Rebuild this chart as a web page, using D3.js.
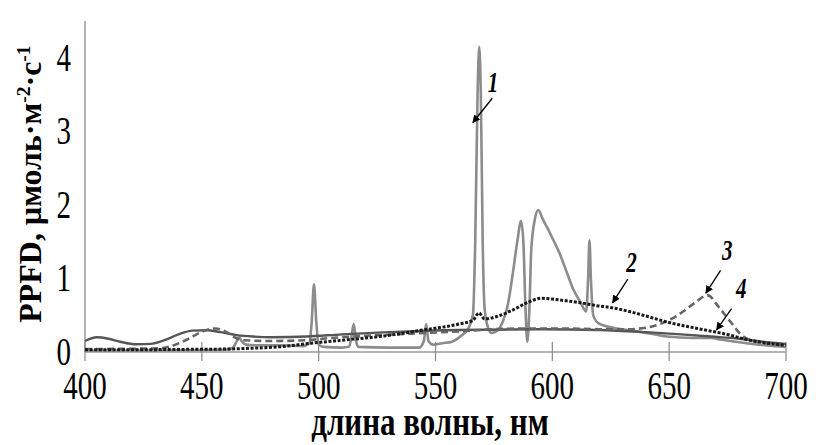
<!DOCTYPE html>
<html>
<head>
<meta charset="utf-8">
<script src="https://cdn.jsdelivr.net/npm/d3@7"></script>
<style>
  body { margin: 0; background: #fff; }
  svg { display: block; }
  text { font-family: "Liberation Serif", "Times New Roman", serif; fill: #000; }
</style>
</head>
<body>
<div id="chart"></div>
<script>
// wavelength / PPFD pairs
const series1 = [[400,0.02],[430,0.02],[460,0.03],[463,0.05],[465,0.15],[466,0.2],[467,0.15],[469,0.1],[475,0.09],[485,0.09],[493,0.08],[496,0.12],[497,0.4],[498,0.92],[499,0.4],[500,0.1],[502,0.07],[510,0.06],[513,0.07],[514,0.2],[515,0.38],[516,0.15],[517,0.07],[530,0.06],[543,0.06],[545,0.15],[546,0.38],[547,0.15],[549,0.1],[553,0.12],[557,0.14],[561,0.22],[564,0.32],[566,0.5],[567,1.5],[568,3.5],[568.7,4.15],[569.4,3.5],[570.2,1.5],[571,0.6],[572.5,0.33],[574,0.26],[576,0.28],[579,0.43],[581,0.65],[583,1.05],[585,1.5],[586.6,1.78],[587.6,1.5],[588.5,0.6],[589.3,0.14],[590.2,0.6],[591,1.4],[592.5,1.8],[594,1.93],[596,1.8],[598,1.68],[600,1.55],[603,1.35],[606,1.1],[609,0.85],[612,0.68],[614.5,0.55],[615.3,1.0],[615.9,1.52],[616.5,1.0],[617.5,0.5],[619,0.41],[622,0.36],[626,0.33],[632,0.3],[640,0.26],[649,0.21],[660,0.19],[668,0.19],[672,0.17],[683,0.12],[692,0.09],[700,0.07]];
const series2 = [[400,0.03],[420,0.03],[440,0.035],[460,0.04],[470,0.05],[483,0.07],[497,0.12],[510,0.16],[526,0.21],[545,0.3],[560,0.38],[566,0.43],[568.6,0.53],[571,0.45],[576,0.48],[583,0.57],[590,0.68],[595,0.73],[600,0.72],[605,0.7],[612,0.67],[619,0.63],[626,0.6],[633,0.55],[640,0.49],[650,0.4],[662,0.32],[676,0.23],[683,0.17],[692,0.12],[700,0.09]];
const series3 = [[400,0.04],[432,0.05],[437,0.08],[441,0.13],[445,0.19],[449,0.26],[453,0.31],[456,0.32],[460,0.28],[464,0.2],[468,0.16],[480,0.15],[495,0.16],[505,0.19],[520,0.22],[540,0.25],[560,0.28],[575,0.31],[590,0.32],[605,0.32],[620,0.31],[632,0.31],[640,0.33],[646,0.38],[651,0.45],[656,0.55],[661,0.67],[666.5,0.77],[671,0.62],[674,0.5],[677,0.38],[680,0.26],[684,0.17],[690,0.13],[700,0.09]];
const series4 = [[400,0.15],[405,0.2],[410,0.18],[415,0.14],[422,0.105],[428,0.11],[434,0.16],[440,0.24],[446,0.29],[452,0.295],[458,0.27],[465,0.23],[472,0.21],[480,0.2],[495,0.21],[510,0.24],[530,0.27],[560,0.3],[595,0.31],[620,0.3],[640,0.27],[655,0.24],[668,0.21],[680,0.18],[690,0.14],[700,0.11]];

const xTicks = [400, 450, 500, 550, 600, 650, 700];
const yTicks = [0, 1, 2, 3, 4];

// label, text anchor point and arrow (start -> tip) in data units
const labels = ['1', '2', '3', '4'];
const labelPos = [[574.6, 3.53], [633.9, 1.09], [674.9, 1.25], [680.8, 0.73]];
const arrowFrom = [[574.3, 3.45], [632.3, 0.99], [672, 1.11], [676.7, 0.59]];
const arrowTo = [[566, 3.12], [625.8, 0.67], [665.7, 0.8], [670.3, 0.3]];

const width = 820;
const height = 445;

const x = d3.scaleLinear().domain([400, 700]).range([85, 786]);
const y = d3.scaleLinear().domain([0, 4.5]).range([352, 21]);

const svg = d3.select('#chart')
    .append('svg')
    .attr('width', width)
    .attr('height', height);

svg.append('defs').append('marker')
    .attr('id', 'head')
    .attr('viewBox', '0 0 10 10')
    .attr('refX', 9)
    .attr('refY', 5)
    .attr('markerWidth', 8)
    .attr('markerHeight', 8)
    .attr('markerUnits', 'userSpaceOnUse')
    .attr('orient', 'auto')
    .append('path')
    .attr('d', 'M0,0L10,5L0,10Z')
    .attr('fill', '#000');

// axes
svg.append('line')
    .attr('x1', x(400)).attr('x2', x(400))
    .attr('y1', y(4.5)).attr('y2', y(0))
    .attr('stroke', '#9a9a9a').attr('stroke-width', 1.5);

svg.append('line')
    .attr('x1', x(400)).attr('x2', x(700))
    .attr('y1', y(0)).attr('y2', y(0))
    .attr('stroke', '#9a9a9a').attr('stroke-width', 1.5);

svg.selectAll('.xTick')
    .data(xTicks)
    .enter().append('line')
    .attr('class', 'xTick')
    .attr('x1', d => x(d)).attr('x2', d => x(d))
    .attr('y1', y(0) - 10).attr('y2', y(0) + 9)
    .attr('stroke', '#8a8a8a').attr('stroke-width', 1.2);

const line = d3.line()
    .x(d => x(d[0]))
    .y(d => y(d[1]))
    .curve(d3.curveMonotoneX);

svg.append('path').datum(series1).attr('d', line)
    .attr('fill', 'none').attr('stroke', '#8c8c8c').attr('stroke-width', 2.6);

svg.append('path').datum(series4).attr('d', line)
    .attr('fill', 'none').attr('stroke', '#555').attr('stroke-width', 2.4);

svg.append('path').datum(series3).attr('d', line)
    .attr('fill', 'none').attr('stroke', '#666').attr('stroke-width', 2.6)
    .attr('stroke-dasharray', '7,4');

svg.append('path').datum(series2).attr('d', line)
    .attr('fill', 'none').attr('stroke', '#1a1a1a').attr('stroke-width', 3)
    .attr('stroke-dasharray', '3,1.6');

// tick labels
svg.selectAll('.xLabel')
    .data(xTicks)
    .enter().append('text')
    .attr('class', 'xLabel')
    .attr('text-anchor', 'middle')
    .attr('font-size', 29)
    .attr('transform', d => `translate(${x(d)},399) scale(1,1.4)`)
    .text(String);

svg.selectAll('.yLabel')
    .data(yTicks)
    .enter().append('text')
    .attr('class', 'yLabel')
    .attr('text-anchor', 'end')
    .attr('font-size', 29)
    .attr('transform', d => `translate(71,${y(d) + 13}) scale(1,1.4)`)
    .text(String);

// axis titles
svg.append('text')
    .attr('text-anchor', 'middle')
    .attr('font-size', 31)
    .attr('font-weight', 'bold')
    .attr('transform', 'translate(430,435) scale(1,1.28)')
    .text('длина волны, нм');

const yTitle = svg.append('text')
    .attr('text-anchor', 'middle')
    .attr('font-size', 31)
    .attr('font-weight', 'bold')
    .attr('transform', 'translate(41,184) rotate(-90) scale(1.03,1)');
yTitle.append('tspan').text('PPFD, µмоль·м');
yTitle.append('tspan').attr('font-size', 19).attr('dy', -11).text('-2');
yTitle.append('tspan').attr('dy', 11).text('·с');
yTitle.append('tspan').attr('font-size', 19).attr('dy', -11).text('-1');

// curve numbers with arrows
labels.forEach((t, i) => {
    svg.append('text')
        .attr('text-anchor', 'middle')
        .attr('font-size', 21)
        .attr('font-weight', 'bold')
        .attr('font-style', 'italic')
        .attr('transform', `translate(${x(labelPos[i][0])},${y(labelPos[i][1])}) scale(1,1.4)`)
        .text(t);
    svg.append('line')
        .attr('x1', x(arrowFrom[i][0])).attr('y1', y(arrowFrom[i][1]))
        .attr('x2', x(arrowTo[i][0])).attr('y2', y(arrowTo[i][1]))
        .attr('stroke', '#000').attr('stroke-width', 1.3)
        .attr('marker-end', 'url(#head)');
});
</script>
</body>
</html>
